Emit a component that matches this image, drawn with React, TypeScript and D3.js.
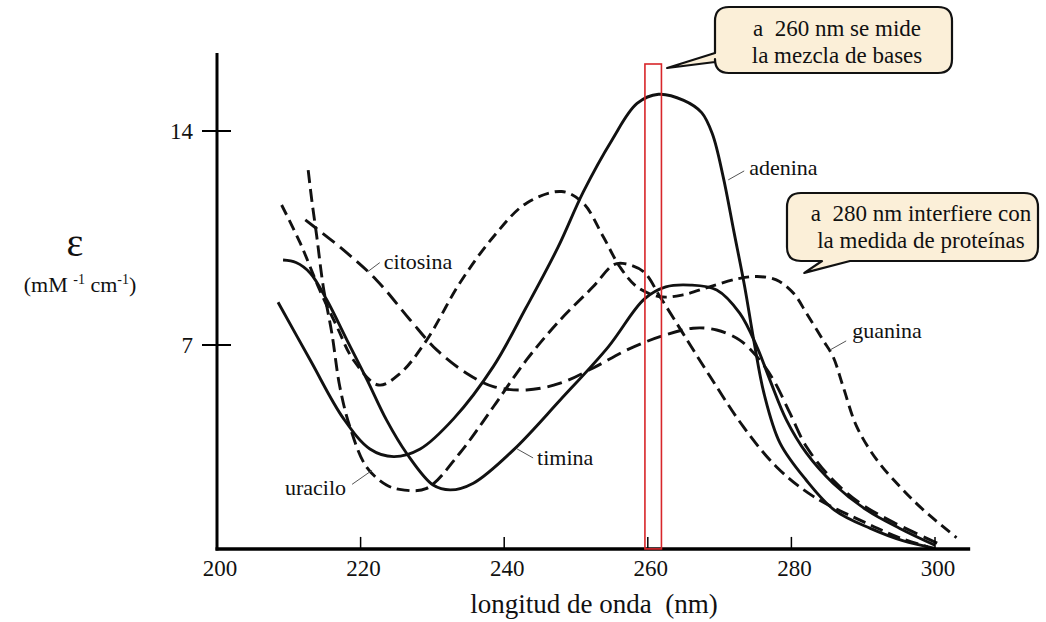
import React from 'react';
import * as d3 from 'd3';

// absorption spectra of the bases, [wavelength nm, epsilon mM-1 cm-1]
const adenina: [number, number][] = [
  [208.5, 8.4], [213, 6.5], [217.6, 4.6], [221.3, 3.6], [224.6, 3.35], [228.3, 3.6],
  [233, 4.6], [238.5, 6.3], [243, 8.2], [247.5, 10.2], [251, 12.0], [255, 13.7],
  [258.5, 14.9], [261.5, 15.2], [265, 15.0], [267.5, 14.6], [269, 13.9], [270.5, 12.5],
  [272, 10.7], [273.5, 8.9], [274.8, 7.1], [276.2, 5.4], [278.4, 3.8], [282, 2.6],
  [286, 1.6], [291, 1.0], [295.5, 0.6], [300, 0.35],
];
const guanina: [number, number][] = [
  [209, 11.58], [211.6, 10.33], [214.3, 8.8], [216.7, 7.6], [219, 6.51], [222.5, 5.69],
  [225.5, 6.07], [229.2, 7.16], [233.8, 9.02], [238.5, 10.54], [243.1, 11.64], [248, 12.02],
  [251, 11.64], [253.8, 10.54], [256.1, 9.56], [258.5, 8.9], [261.7, 8.58], [264.9, 8.64],
  [268.7, 8.91], [272.8, 9.18], [275.2, 9.24], [277.9, 9.13], [280.3, 8.69], [282.1, 8.04],
  [284.4, 7.16], [285.8, 6.62], [287.2, 5.64], [289.1, 4.33], [291.9, 3.24], [295.1, 2.37],
  [298.4, 1.6], [303, 0.7],
];
const citosina: [number, number][] = [
  [212.3, 11.09], [217.6, 10.11], [222.2, 9.13], [226.9, 7.82], [230.6, 6.84], [234.8, 6.07],
  [238.5, 5.64], [243.1, 5.53], [247.8, 5.75], [252.4, 6.25], [257.1, 6.84], [261.7, 7.27],
  [266.3, 7.55], [269.6, 7.49], [272.8, 7.16], [275.2, 6.62], [277.5, 5.86], [279.8, 4.77],
  [282.1, 3.67], [285.8, 2.58], [289.6, 1.82], [294.2, 1.2], [300.5, 0.5],
];
const timina: [number, number][] = [
  [209.2, 9.78], [211, 9.7], [213, 9.35], [215.3, 8.47], [218.1, 7.16], [220.9, 5.86],
  [223.6, 4.55], [226.4, 3.46], [230.1, 2.42], [232.5, 2.26], [235.7, 2.48], [241.3, 3.57],
  [247.8, 5.2], [254.5, 6.94], [259.5, 8.5], [262.5, 8.9], [265.9, 8.96], [269.6, 8.8],
  [272.8, 8.04], [275.2, 6.94], [277, 5.86], [279.3, 4.55], [282.1, 3.46], [285.8, 2.48],
  [290.5, 1.6], [295.1, 1.0], [300, 0.45],
];
const uracilo: [number, number][] = [
  [212.7, 12.72], [213.2, 11.74], [213.9, 10.54], [214.8, 8.91], [216, 7.38], [217.1, 5.64],
  [218.5, 4.33], [220.8, 3.02], [223.6, 2.42], [225.9, 2.26], [229.2, 2.31], [233.8, 3.46],
  [238.5, 4.98], [243.1, 6.51], [247.8, 7.82], [252.4, 8.91], [255.2, 9.62], [256.5, 9.67],
  [259.4, 9.4], [261.7, 8.58], [264.9, 7.38], [268.7, 5.96], [273.3, 4.33], [277.9, 3.02],
  [283.1, 2.04], [290.5, 1.17], [295, 0.7], [299, 0.4],
];

const xTicks = [200, 220, 240, 260, 280, 300];
const yTicks = [7, 14];
const redBand = [259.6, 261.9]; // 260 nm window

const series = [
  { name: 'adenina', data: adenina, dash: '' },
  { name: 'timina', data: timina, dash: '' },
  { name: 'guanina', data: guanina, dash: '11 6' },
  { name: 'citosina', data: citosina, dash: '15 7' },
  { name: 'uracilo', data: uracilo, dash: '13 6' },
];

// label anchored at a point on the curve, offsets in px
const curveLabels = [
  { text: 'citosina', nm: 221, eps: 9.4, lx: 12, ly: -9, tx: 16, ty: -3, anchor: 'start' },
  { text: 'adenina', nm: 271.2, eps: 12.4, lx: 16, ly: -9, tx: 21, ty: -5, anchor: 'start' },
  { text: 'guanina', nm: 285.4, eps: 6.84, lx: 16, ly: -9, tx: 22, ty: -12, anchor: 'start' },
  { text: 'timina', nm: 241.8, eps: 3.6, lx: 16, ly: 9, tx: 20, ty: 16, anchor: 'start' },
  { text: 'uracilo', nm: 221.6, eps: 2.9, lx: -20, ly: 14, tx: -26, ty: 25, anchor: 'end' },
];

const W = 1046;
const H = 622;
const font = "'Liberation Serif', 'Times New Roman', serif";

const x = d3.scaleLinear().domain([200, 300]).range([217, 935]);
const y = d3.scaleLinear().domain([0, 14]).range([559, 131]);
const axisFloor = 0.33; // the drawn baseline sits a little above zero
const axisTop = 16.55;
const axisEnd = 304.9;

const line = d3
  .line<[number, number]>()
  .x((d) => x(d[0]))
  .y((d) => y(d[1]))
  .curve(d3.curveCatmullRom.alpha(0.5));

// rounded speech bubble, tail on left side or bottom side
function bubble(x0: number, y0: number, x1: number, y1: number, r: number, tail: any) {
  let p = `M${x0 + r},${y0} L${x1 - r},${y0} Q${x1},${y0} ${x1},${y0 + r} L${x1},${y1 - r} Q${x1},${y1} ${x1 - r},${y1}`;
  if (tail.side === 'bottom') {
    p += ` L${tail.b},${y1} L${tail.tx},${tail.ty} L${tail.a},${y1}`;
  }
  p += ` L${x0 + r},${y1} Q${x0},${y1} ${x0},${y1 - r}`;
  if (tail.side === 'left') {
    p += ` L${x0},${tail.b} L${tail.tx},${tail.ty} L${x0},${tail.a}`;
  }
  p += ` L${x0},${y0 + r} Q${x0},${y0} ${x0 + r},${y0} Z`;
  return p;
}

export default function App() {
  const baseY = y(axisFloor);
  const tip1 = { tx: x(262.7), ty: 68 };
  const tip2 = { tx: x(281.8), ty: y(9.36) };

  return (
    <svg
      width={W}
      height={H}
      style={{ position: 'absolute', left: 0, top: 0, background: '#fff' }}
      fontFamily={font}
      fill="#111"
    >
      {/* curves */}
      {series.map((s) => (
        <path
          key={s.name}
          d={line(s.data) || ''}
          fill="none"
          stroke="#111"
          strokeWidth={2.9}
          strokeDasharray={s.dash || undefined}
          strokeLinecap="butt"
        />
      ))}

      {/* axes */}
      <line x1={x(200)} x2={x(200)} y1={y(axisTop)} y2={baseY + 1.5} stroke="#000" strokeWidth={3} />
      <line x1={x(200) - 1.5} x2={x(axisEnd)} y1={baseY} y2={baseY} stroke="#000" strokeWidth={3.5} />
      {yTicks.map((t) => (
        <g key={t}>
          <line x1={x(200) - 15} x2={x(200) + 14} y1={y(t)} y2={y(t)} stroke="#000" strokeWidth={2} />
          <text x={x(200) - 24} y={y(t)} dy="0.35em" textAnchor="end" fontSize={23}>
            {t}
          </text>
        </g>
      ))}
      {xTicks.map((t) => (
        <g key={t}>
          {t > 200 && <line x1={x(t)} x2={x(t)} y1={baseY} y2={baseY - 12} stroke="#000" strokeWidth={1.5} />}
          <text x={x(t) + 3} y={baseY + 27} textAnchor="middle" fontSize={23}>
            {t}
          </text>
        </g>
      ))}
      <text x={594} y={613} textAnchor="middle" fontSize={27} style={{ whiteSpace: 'pre' }}>
        {'longitud de onda  (nm)'}
      </text>
      <text x={75} y={256} textAnchor="middle" fontSize={40}>
        ε
      </text>
      <text x={80} y={292} textAnchor="middle" fontSize={22} style={{ whiteSpace: 'pre' }}>
        (mM <tspan fontSize={14} dy={-8}>-1</tspan>
        <tspan dy={8}> cm</tspan>
        <tspan fontSize={14} dy={-8}>-1</tspan>
        <tspan dy={8}>)</tspan>
      </text>

      {/* 260 nm window */}
      <rect
        x={x(redBand[0])}
        y={64}
        width={x(redBand[1]) - x(redBand[0])}
        height={baseY - 64}
        fill="none"
        stroke="#d8262a"
        strokeWidth={1.6}
      />

      {/* curve labels */}
      {curveLabels.map((l) => {
        const px = x(l.nm);
        const py = y(l.eps);
        return (
          <g key={l.text}>
            <line x1={px} y1={py} x2={px + l.lx} y2={py + l.ly} stroke="#555" strokeWidth={1} />
            <text x={px + l.tx} y={py + l.ty} textAnchor={l.anchor as any} fontSize={22}>
              {l.text}
            </text>
          </g>
        );
      })}

      {/* callouts */}
      <path
        d={bubble(715, 7, 952, 73, 14, { side: 'left', a: 53, b: 62, ...tip1 })}
        fill="#fbefd8"
        stroke="#111"
        strokeWidth={2.2}
        strokeLinejoin="round"
      />
      <text x={837} y={36} textAnchor="middle" fontSize={23} style={{ whiteSpace: 'pre' }}>
        {'a  260 nm se mide'}
      </text>
      <text x={837} y={63} textAnchor="middle" fontSize={23}>
        la mezcla de bases
      </text>

      <path
        d={bubble(787, 193, 1038, 261, 14, { side: 'bottom', a: 822, b: 850, ...tip2 })}
        fill="#fbefd8"
        stroke="#111"
        strokeWidth={2.2}
        strokeLinejoin="round"
      />
      <text x={921} y={221} textAnchor="middle" fontSize={23} style={{ whiteSpace: 'pre' }}>
        {'a  280 nm interfiere con'}
      </text>
      <text x={921} y={248} textAnchor="middle" fontSize={23}>
        la medida de proteínas
      </text>
    </svg>
  );
}
